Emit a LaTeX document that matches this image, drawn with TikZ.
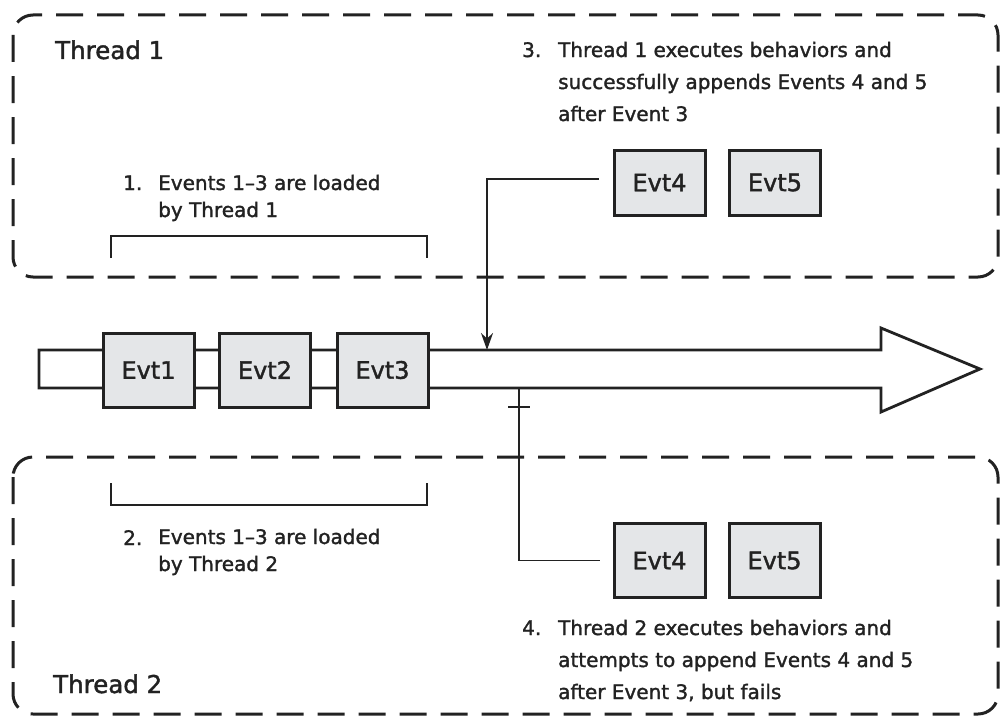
\documentclass[tikz,border=0pt]{standalone}
\usepackage{fontspec}
\setmainfont{DejaVu Sans}[FakeBold=1.6]
\usetikzlibrary{arrows.meta}
\definecolor{ink}{HTML}{222222}
\definecolor{evtfill}{HTML}{E4E6E8}
\begin{document}
\begin{tikzpicture}[x=1pt,y=-1pt,
  threadbox/.style={draw=ink, line width=3pt, dash pattern=on 27pt off 14pt, rounded corners=20pt},
  evt/.style={draw=ink, fill=evtfill, line width=3pt, minimum width=91pt, minimum height=74pt, inner sep=0pt, font=\fontsize{24}{28}\selectfont, text=ink},
  conn/.style={draw=ink, line width=1.9pt},
  bracket/.style={draw=ink, line width=2.4pt},
  notesmall/.style={font=\fontsize{20}{27}\selectfont, align=left, inner sep=0pt, anchor=base west, text=ink},
  notebig/.style={font=\fontsize{20}{32}\selectfont, align=left, inner sep=0pt, anchor=base west, text=ink},
  title/.style={font=\fontsize{24.5}{28}\selectfont, inner sep=0pt, anchor=base west, text=ink}]
\useasboundingbox (0,0) rectangle (1003,717);

% thread regions
\draw[threadbox] (13,15) rectangle (998,277);
\draw[threadbox] (13,457) rectangle (998,714);

% timeline arrow
\draw[draw=ink, line width=2.8pt, line join=miter, fill=white]
  (39,350) -- (881,350) -- (881,328) -- (980,369) -- (881,412) -- (881,388) -- (39,388) -- cycle;

% events on the timeline
\node[evt] (e1) at (148.5,370) {Evt1};
\node[evt] (e2) at (265,370) {Evt2};
\node[evt] (e3) at (382.5,370) {Evt3};

% thread 1 new events
\node[evt, minimum height=65pt] (t1e4) at (659.5,182.5) {Evt4};
\node[evt, minimum height=65pt] (t1e5) at (775,182.5) {Evt5};

% thread 2 new events
\node[evt] (t2e4) at (659.5,560.5) {Evt4};
\node[evt] (t2e5) at (774.5,560.5) {Evt5};

% connectors
\coordinate (hit) at (487,350);
\coordinate (block) at (519,388);
\draw[conn, -{Stealth[length=17pt,width=12pt]}] ([xshift=-14pt,yshift=3.5pt]t1e4.west) -| (hit);
\draw[conn] (block) |- ([xshift=-13pt]t2e4.west);
\draw[conn] ([xshift=-11pt,yshift=-19pt]block) -- ([xshift=11pt,yshift=-19pt]block);

% brackets
\draw[bracket] (111,258) -- (111,236) -- (427,236) -- (427,258);
\draw[bracket] (111,483) -- (111,505) -- (427,505) -- (427,483);

% titles
\node[title] (th1) at (55,59) {Thread 1};
\node[title] (th2) at (53,693) {Thread 2};

% notes (base anchor = baseline of last line)
\node[notesmall] (n1num) at (123,190) {1.};
\node[notesmall] (n1) at (158,217) {Events 1–3 are loaded\\by Thread 1};
\node[notesmall] (n2num) at (123,545) {2.};
\node[notesmall] (n2) at (158,571) {Events 1–3 are loaded\\by Thread 2};
\node[notebig] (n3num) at (522,57) {3.};
\node[notebig] (n3) at (558,121) {Thread 1 executes behaviors and\\successfully appends Events 4 and 5\\after Event 3};
\node[notebig] (n4num) at (522,635) {4.};
\node[notebig] (n4) at (558,699) {Thread 2 executes behaviors and\\attempts to append Events 4 and 5\\after Event 3, but fails};
\end{tikzpicture}
\end{document}
